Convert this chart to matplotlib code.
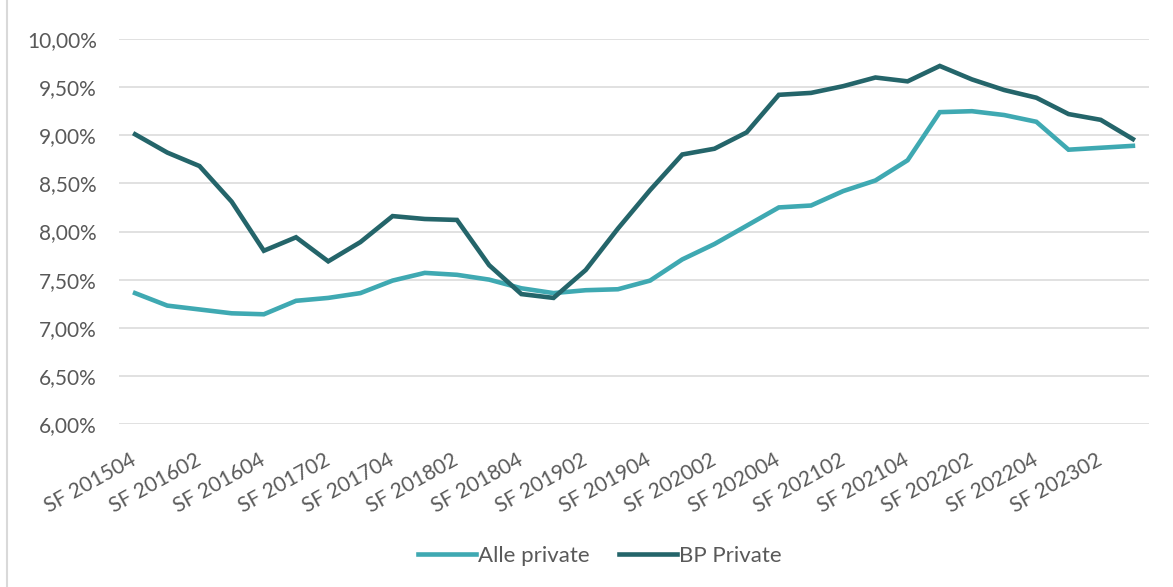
import matplotlib
matplotlib.use("Agg")
import matplotlib.pyplot as plt
from matplotlib.lines import Line2D
from matplotlib.ticker import FuncFormatter
import numpy as np

# kvartaler fra SF 201504 til SF 202303
kvartaler = ['SF 201504', 'SF 201601', 'SF 201602', 'SF 201603', 'SF 201604',
             'SF 201701', 'SF 201702', 'SF 201703', 'SF 201704', 'SF 201801',
             'SF 201802', 'SF 201803', 'SF 201804', 'SF 201901', 'SF 201902',
             'SF 201903', 'SF 201904', 'SF 202001', 'SF 202002', 'SF 202003',
             'SF 202004', 'SF 202101', 'SF 202102', 'SF 202103', 'SF 202104',
             'SF 202201', 'SF 202202', 'SF 202203', 'SF 202204', 'SF 202301',
             'SF 202302', 'SF 202303']

alle_private = [7.36, 7.23, 7.19, 7.15, 7.14, 7.28, 7.31, 7.36, 7.49, 7.57,
                7.55, 7.50, 7.41, 7.36, 7.39, 7.40, 7.49, 7.71, 7.87, 8.06,
                8.25, 8.27, 8.42, 8.53, 8.74, 9.24, 9.25, 9.21, 9.14, 8.85,
                8.87, 8.89]

bp_private = [9.01, 8.82, 8.68, 8.31, 7.80, 7.94, 7.69, 7.89, 8.16, 8.13,
              8.12, 7.65, 7.35, 7.31, 7.60, 8.03, 8.43, 8.80, 8.86, 9.03,
              9.42, 9.44, 9.51, 9.60, 9.56, 9.72, 9.58, 9.47, 9.39, 9.22,
              9.16, 8.96]

lys = '#3fa9b2'
mork = '#24656a'
tekst = '#595959'
grid = '#d9d9d9'

plt.rcParams['font.family'] = ['Lato', 'DejaVu Sans']

fig = plt.figure(figsize=(11.73, 5.87), dpi=100)
ax = fig.add_axes([119 / 1173, 1 - 424 / 587, 1030 / 1173, 385 / 587])

x = np.arange(len(kvartaler))
ax.plot(x, alle_private, color=lys, lw=3.3, label='Alle private', solid_joinstyle='miter')
ax.plot(x, bp_private, color=mork, lw=3.3, label='BP Private', solid_joinstyle='miter')

ax.set_xlim(-0.5, len(kvartaler) - 0.5)
ax.set_ylim(6, 10)
ax.set_yticks(np.arange(6, 10.01, 0.5))
ax.yaxis.set_major_formatter(FuncFormatter(lambda v, p: f'{v:.2f}'.replace('.', ',') + '%'))
ax.grid(axis='y', color=grid, lw=1.1)
ax.set_axisbelow(True)

ax.set_xticks(x[::2])
ax.set_xticklabels(kvartaler[::2], rotation=29, ha='right', rotation_mode='anchor',
                   va='center')
ax.tick_params(axis='x', length=0, pad=25, labelsize=15, labelcolor=tekst)
ax.tick_params(axis='y', length=0, pad=16, labelsize=15, labelcolor=tekst)
for s in ax.spines.values():
    s.set_visible(False)

fig.legend(loc='center', bbox_to_anchor=(600 / 1173, 1 - 556 / 587), ncol=2,
           frameon=False, fontsize=16, labelcolor=tekst, handlelength=2.6,
           handletextpad=0.1, columnspacing=1.3)

# kantlinje til venstre
fig.add_artist(Line2D([7 / 1173, 7 / 1173], [0, 1], color=grid, lw=1.5,
                      transform=fig.transFigure))

fig.savefig('out.png', dpi=100)
